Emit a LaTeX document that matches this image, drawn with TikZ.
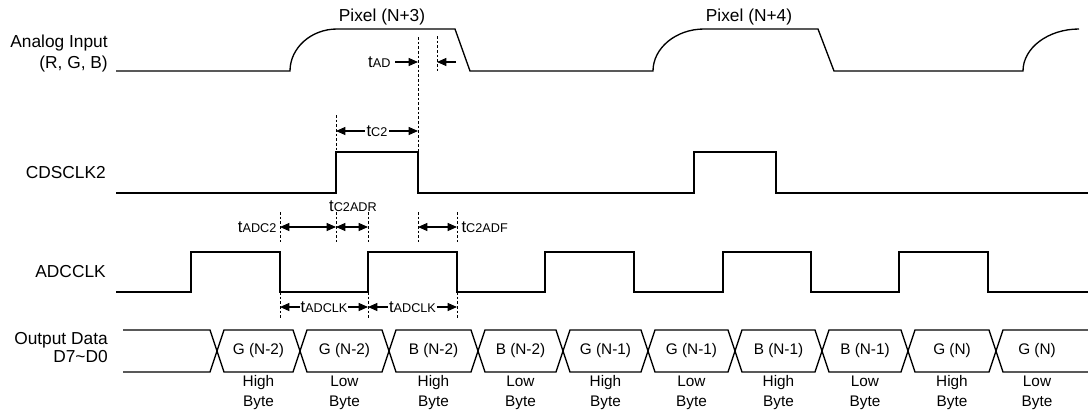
\documentclass[tikz,border=0pt]{standalone}
\usepackage{fontspec}
\setmainfont{Liberation Sans}
\usetikzlibrary{arrows.meta}

\newcommand{\tname}[1]{t{\fontsize{9.5}{10}\selectfont #1}}

\begin{document}
\begin{tikzpicture}[x=0.75pt,y=-0.75pt,
        sig/.style={line width=1pt, line join=miter},
        guide/.style={dash pattern=on 2pt off 1.5pt, line width=0.6pt},
        dim/.style={line width=0.8pt, {Triangle[length=7pt,width=6pt]}-{Triangle[length=7pt,width=6pt]}},
        tip/.style={line width=0.8pt, -{Triangle[length=7pt,width=6pt]}},
        lbl/.style={font=\fontsize{13}{15}\selectfont, inner sep=0pt},
        byte/.style={font=\fontsize{11.5}{15}\selectfont, inner sep=0pt, align=center},
        tm/.style={font=\fontsize{12.5}{14}\selectfont, inner sep=1pt}]
        \useasboundingbox (0,0) rectangle (1088,412);

        % signal names
        \node[lbl, anchor=east] (ain1) at (108,43) {Analog Input};
        \node[lbl, anchor=east] (ain2) at (108,64) {(R, G, B)};
        \node[lbl, anchor=east] (cds) at (106,173) {CDSCLK2};
        \node[lbl, anchor=east] (adc) at (106,272) {ADCCLK};
        \node[lbl, anchor=east] (out1) at (108,340) {Output Data};
        \node[lbl, anchor=east] (out2) at (108,357) {D7\textasciitilde D0};
        \node[lbl] (pix3) at (382,17) {Pixel (N+3)};
        \node[lbl] (pix4) at (749,17) {Pixel (N+4)};

        % analog input
        \draw[sig] (116,71) -- (290,71) .. controls (290,48) and (311,29) .. (337,29)
            -- (455,29) -- (470,71) -- (653,71) .. controls (653,48) and (676,29) .. (704,29)
            -- (818,29) -- (834,71) -- (1023,71) .. controls (1023,48) and (1048,29) .. (1079,29);

        % CDSCLK2
        \draw[sig] (116,193) -| (336,152) -| (418,193) -| (694,152) -| (776,193) -- (1088,193);

        % ADCCLK
        \draw[sig] (116,292) -| (191,252) -| (280,292) -| (368,252) -| (457,292) -| (545,252)
            -| (634,292) -| (723,252) -| (811,292) -| (899,252) -| (988,292) -- (1088,292);

        % output data
        \draw[sig] (123,330) -- (210,330) -- (217,351) -- (210,372) -- (123,372);
        \foreach \a/\b/\d/\w [count=\i] in {217/300/G (N-2)/High, 300/389/G (N-2)/Low,
            389/478/B (N-2)/High, 478/563/B (N-2)/Low, 563/648/G (N-1)/High,
            648/735/G (N-1)/Low, 735/822/B (N-1)/High, 822/908/B (N-1)/Low,
            908/996/G (N)/High} {
            \draw[sig] (\a,351) -- (\a+7,330) -- (\b-7,330) -- (\b,351) -- (\b-7,372) -- (\a+7,372) -- cycle;
            \node[byte] (d\i) at ({(\a+\b)/2},351) {\d};
            \node[byte] (w\i) at ({(\a+\b)/2},393) {\w\\Byte};
        }
        \draw[sig] (1088,330) -- (1003,330) -- (996,351) -- (1003,372) -- (1088,372);
        \node[byte] (d10) at (1037,351) {G (N)};
        \node[byte] (w10) at (1037,393) {Low\\Byte};

        % guide lines
        \draw[guide] (418,37) -- (418,152);
        \draw[guide] (437,36) -- (437,72);
        \draw[guide] (336,115) -- (336,152);
        \foreach \x in {280,336,368,418,457}
            \draw[guide] (\x,212) -- (\x,242);
        \foreach \x in {280,368,457}
            \draw[guide] (\x,292) -- (\x,320);

        % timing marks
        \coordinate (ad1) at (418,62);
        \coordinate (ad2) at (437,62);
        \draw[tip] (395,62) -- (ad1);
        \draw[tip] (456,62) -- (ad2);
        \node[tm, anchor=east] (tad) at (392,62) {\tname{AD}};

        \coordinate (c2a) at (336,131);
        \coordinate (c2b) at (418,131);
        \draw[dim] (c2a) -- node[tm, fill=white] (tc2) {\tname{C2}} (c2b);

        \coordinate (r1) at (280,227);
        \coordinate (r2) at (336,227);
        \coordinate (r3) at (368,227);
        \coordinate (f1) at (418,227);
        \coordinate (f2) at (457,227);
        \draw[dim] (r1) -- (r2);
        \draw[dim] (r2) -- (r3);
        \draw[dim] (f1) -- (f2);
        \node[tm, anchor=east] (tadc2) at (278,227) {\tname{ADC2}};
        \node[tm] (tc2adr) at (353,206) {\tname{C2ADR}};
        \node[tm, anchor=west] (tc2adf) at (460,227) {\tname{C2ADF}};

        \coordinate (k1) at (280,307);
        \coordinate (k2) at (368,307);
        \coordinate (k3) at (457,307);
        \draw[dim] (k1) -- node[tm, fill=white, inner sep=0.5pt] (tk1) {\tname{ADCLK}} (k2);
        \draw[dim] (k2) -- node[tm, fill=white, inner sep=0.5pt] (tk2) {\tname{ADCLK}} (k3);
    \end{tikzpicture}
\end{document}
